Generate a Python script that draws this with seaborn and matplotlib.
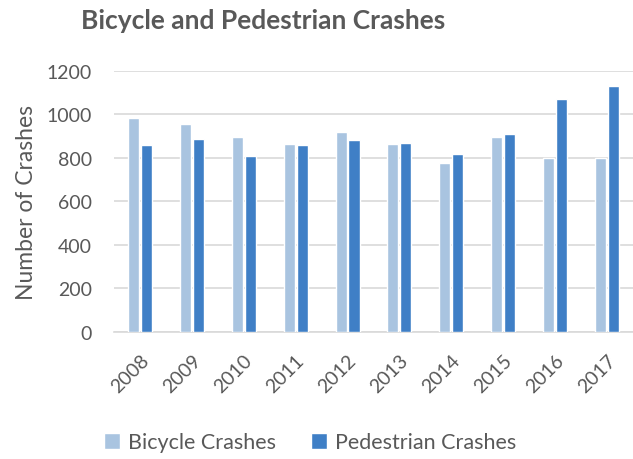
import pandas as pd
import matplotlib.pyplot as plt
import seaborn as sns

years = ['2008', '2009', '2010', '2011', '2012', '2013', '2014', '2015', '2016', '2017']
bicycle = [981, 957, 897, 863, 918, 863, 774, 897, 800, 800]
pedestrian = [858, 885, 809, 860, 882, 868, 817, 911, 1072, 1131]
series = ['Bicycle Crashes', 'Pedestrian Crashes']
colors = ['#A9C4E0', '#3F7FC6']

df = pd.DataFrame({
    'year': years * 2,
    'crashes': bicycle + pedestrian,
    'series': [series[0]] * len(years) + [series[1]] * len(years),
})

sns.set_style('white')
plt.rcParams['font.family'] = ['Lato', 'DejaVu Sans']
grey = '#595959'

fig = plt.figure(figsize=(6.33, 4.6), dpi=100)
ax = fig.add_axes([0.180, 0.277, 0.82, 0.567])

sns.barplot(data=df, x='year', y='crashes', hue='series', palette=colors,
            saturation=1, width=0.5, gap=0.15, ax=ax, zorder=3)

ax.set_ylim(0, 1200)
ax.set_xlim(-0.5, 9.5)
ax.set_yticks(range(0, 1201, 200))
ax.yaxis.grid(True, color='#D9D9D9', lw=1.2, zorder=0)
ax.set_axisbelow(True)
for s in ['top', 'right', 'left']:
    ax.spines[s].set_visible(False)
ax.spines['bottom'].set_color('#D9D9D9')
ax.spines['bottom'].set_linewidth(1.2)
ax.tick_params(axis='both', length=0, labelsize=14, colors=grey)
ax.tick_params(axis='y', pad=16)
ax.tick_params(axis='x', pad=14)
plt.setp(ax.get_xticklabels(), rotation=45, ha='right', rotation_mode='anchor')
ax.set_xlabel('')
ax.set_ylabel('Number of Crashes', fontsize=16.5, color=grey, labelpad=7)

ax.legend(loc='center', bbox_to_anchor=(0.378, -0.425), ncol=2, frameon=False,
          fontsize=15.5, labelcolor=grey, handlelength=0.75, handleheight=0.75,
          columnspacing=1.6, handletextpad=0.4)

fig.text(0.415, 0.955, 'Bicycle and Pedestrian Crashes', ha='center', va='center',
         fontsize=19, fontweight='bold', color=grey)

fig.savefig('out.png', dpi=100)
